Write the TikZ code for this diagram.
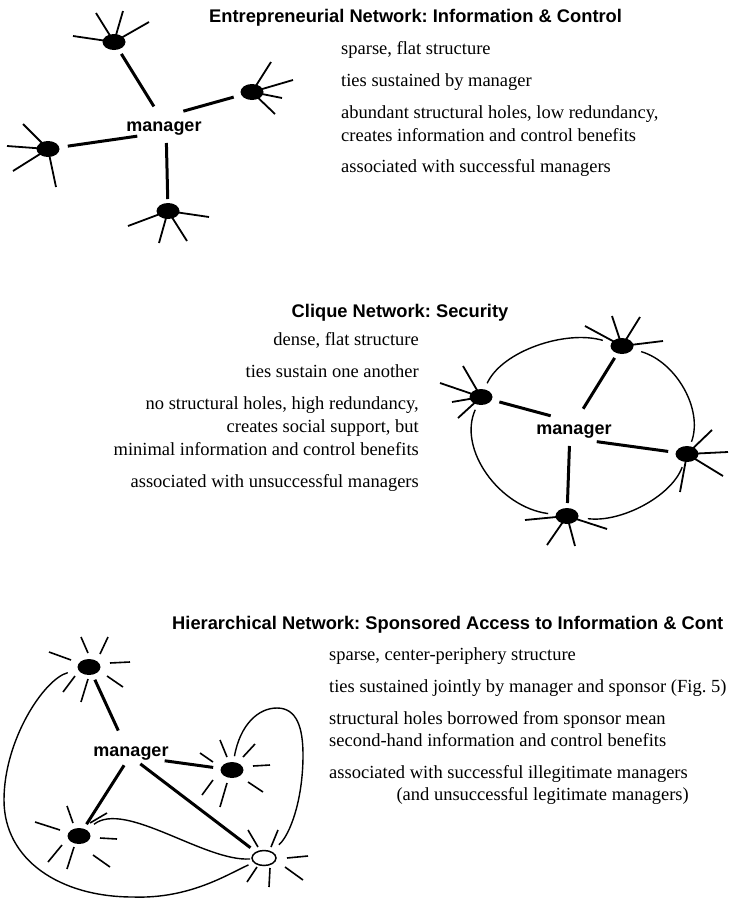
\documentclass[tikz,border=0pt]{standalone}
\usepackage{fontspec}
\setmainfont{Liberation Serif}
\newfontfamily\headfont{Liberation Sans}
\usetikzlibrary{calc,shapes.geometric}
\pgfdeclarelayer{under}
\pgfsetlayers{under,main}

% spokes hanging off a contact (drawn from the centre, under the dot)
\newcommand\spokesof[2]{\foreach \dx/\dy in {#2} \draw[spoke] (#1.center) -- ++(\dx,\dy);}
% free rays around a contact, detached from the dot
\newcommand\raysof[2]{\foreach \ax/\ay/\bx/\by in {#2} \draw[ray] ($(#1)+(\ax,\ay)$) -- ($(#1)+(\bx,\by)$);}

\begin{document}
\frenchspacing
\begin{tikzpicture}[x=1pt,y=-1pt,
  dot/.style={ellipse,fill=black,inner sep=0,minimum width=23,minimum height=16},
  hollow/.style={ellipse,draw=black,line width=1.5,fill=white,inner sep=0,minimum width=24,minimum height=15},
  spoke/.style={line width=1.8},
  ray/.style={line width=1.6},
  tie/.style={line width=3},
  ring/.style={line width=1.4},
  heading/.style={font=\headfont\bfseries\fontsize{18.3}{22}\selectfont,inner sep=0},
  body/.style={font=\fontsize{18.5}{23}\selectfont,inner sep=0},
  mgr/.style={font=\headfont\bfseries\fontsize{18}{22}\selectfont,inner sep=0}]

\begin{pgfonlayer}{under}
\fill[white] (0,0) rectangle (729,900);
\end{pgfonlayer}
\useasboundingbox (0,0) rectangle (729,900);

% ---------------- Entrepreneurial network ----------------
\node[heading,anchor=base west] (title1) at (209,22) {Entrepreneurial Network: Information \& Control};
\node[body,anchor=base west] (e1) at (341,54) {sparse, flat structure};
\node[body,anchor=base west] (e2) at (341,86) {ties sustained by manager};
\node[body,anchor=base west] (e3) at (341,118) {abundant structural holes, low redundancy,};
\node[body,anchor=base west] (e4) at (341,141) {creates information and control benefits};
\node[body,anchor=base west] (e5) at (341,172) {associated with successful managers};

\node[dot] (n1a) at (114,42) {};
\node[dot] (n1b) at (252,92) {};
\node[dot] (n1c) at (48,149) {};
\node[dot] (n1d) at (168,211) {};
\coordinate (hub1) at (166,126);
\node[mgr,anchor=base] (lab1) at (164,131) {manager};

\begin{pgfonlayer}{under}
\spokesof{n1a}{-41/-6,-18/-29,9/-31,35/-20}
\spokesof{n1b}{19/-30,41/-12,30/6,23/22}
\spokesof{n1c}{-25/-25,-41/-3,-35/22,8/38}
\spokesof{n1d}{-40/15,-9/32,19/30,41/6}
\end{pgfonlayer}

\draw[tie,shorten <=14,shorten >=23] (n1a.center) -- (hub1);
\draw[tie,shorten <=19,shorten >=18] (n1b.center) -- ($(hub1)+(0,-10)$);
\draw[tie,shorten <=20,shorten >=29] (n1c.center) -- ($(hub1)+(0,6)$);
\draw[tie,shorten <=12,shorten >=17] (n1d.center) -- (hub1);

% ---------------- Clique network ----------------
\node[heading,anchor=base] (title2) at (400,317) {Clique Network: Security};
\node[body,anchor=base east] (c1) at (419,345) {dense, flat structure};
\node[body,anchor=base east] (c2) at (419,377) {ties sustain one another};
\node[body,anchor=base east] (c3) at (419,409) {no structural holes, high redundancy,};
\node[body,anchor=base east] (c4) at (419,432) {creates social support, but};
\node[body,anchor=base east] (c5) at (419,455) {minimal information and control benefits};
\node[body,anchor=base east] (c6) at (419,487) {associated with unsuccessful managers};

\node[dot] (n2a) at (622,346) {};
\node[dot] (n2b) at (481,397) {};
\node[dot] (n2c) at (687,454) {};
\node[dot] (n2d) at (567,516) {};
\coordinate (hub2) at (570,430);
\node[mgr,anchor=base] (lab2) at (574,434) {manager};

\begin{pgfonlayer}{under}
\spokesof{n2a}{-37/-20,-10/-30,18/-29,41/-5}
\spokesof{n2b}{-18/-31,-41/-14,-29/5,-23/21}
\spokesof{n2c}{25/-24,41/-2,36/22,-7/38}
\spokesof{n2d}{-42/4,-20/29,8/30,40/13}
\end{pgfonlayer}

\draw[tie,shorten <=14,shorten >=25] (n2a.center) -- (hub2);
\draw[tie,shorten <=19,shorten >=20] (n2b.center) -- ($(hub2)+(0,-9)$);
\draw[tie,shorten <=19,shorten >=27] (n2c.center) -- ($(hub2)+(0,8)$);
\draw[tie,shorten <=13,shorten >=16] (n2d.center) -- (hub2);

% ties among the contacts: arcs of one ellipse
\draw[ring,shorten <=15,shorten >=20] (n2b.center) .. controls +(20.6,-45.7) and +(-56.6,-16.6) .. (n2a.center);
\draw[ring,shorten <=20,shorten >=13] (n2a.center) .. controls +(54.1,15.9) and +(16.4,-44.6) .. (n2c.center);
\draw[ring,shorten <=14,shorten >=21] (n2c.center) .. controls +(-15.5,42.3) and +(54,6.9) .. (n2d.center);
\draw[ring,shorten <=19,shorten >=14] (n2d.center) .. controls +(-67.7,-8.7) and +(-23.5,52) .. (n2b.center);

% ---------------- Hierarchical network ----------------
\node[heading,anchor=base west] (title3) at (172,629) {Hierarchical Network: Sponsored Access to Information \& Cont};
\node[body,anchor=base west] (h1) at (329,660) {sparse, center-periphery structure};
\node[body,anchor=base west] (h2) at (329,692) {ties sustained jointly by manager and sponsor (Fig. 5)};
\node[body,anchor=base west] (h3) at (329,724) {structural holes borrowed from sponsor mean};
\node[body,anchor=base west] (h4) at (329,746) {second-hand information and control benefits};
\node[body,anchor=base west] (h5) at (329,778) {associated with successful illegitimate managers};
\node[body,anchor=base east] (h6) at (689,800) {(and unsuccessful legitimate managers)};

\node[dot] (n3a) at (89,667) {};
\node[dot] (n3b) at (232,770) {};
\node[dot] (n3c) at (79,836) {};
\node[hollow] (n3s) at (264,858) {};
\coordinate (hub3) at (130,756);
\node[mgr,anchor=base] (lab3) at (131,756) {manager};

\raysof{n3a}{-40/-15/-18/-7,-8/-30/-1/-14,19/-30/11/-13,21/-4/41/-5,18/9/34/20,-1/12/-8/35,-14/9/-26/25}
\raysof{n3b}{-32/-17/-19/-8,-12/-30/-5/-13,23/-26/11/-13,21/-4/38/-5,16/12/31/22,-5/13/-12/37,-19/10/-30/25}
\raysof{n3c}{-44/-14/-19/-6,-12/-30/-6/-13,11/-13/28/-23,21/2/38/3,14/19/31/31,-5/11/-12/33,-17/9/-31/26}
\raysof{n3s}{-16/-28/-6/-11,14/-28/7/-11,23/0/44/-2,21/9/39/22,6/10/5/29,-7/9/-17/24}

\draw[tie,shorten <=14,shorten >=28] (n3a.center) -- (hub3);
\draw[tie,shorten <=19,shorten >=35] (n3b.center) -- (hub3);
\draw[tie,shorten <=14,shorten >=11] (n3c.center) -- (hub3);
\draw[tie,shorten <=17,shorten >=13] (n3s.center) -- (hub3);

% the sponsor's own ties to the contacts
\draw[ring,shorten <=22,shorten >=17] (n3a.center) .. controls (44,679) and (4,740) .. (4,800)
  .. controls (4,860) and (60,897) .. (133,897)
  .. controls (190,899) and (228,874) .. (n3s.center);
\draw[ring,shorten <=19,shorten >=14] (n3c.center) .. controls (125,800) and (205,862) .. (n3s.center);
\draw[ring,shorten <=14,shorten >=20] (n3b.center) .. controls (240,725) and (258,708) .. (277,708)
  .. controls (297,708) and (303,728) .. (303,755)
  .. controls (303,800) and (290,835) .. (n3s.center);
\end{tikzpicture}
\end{document}
